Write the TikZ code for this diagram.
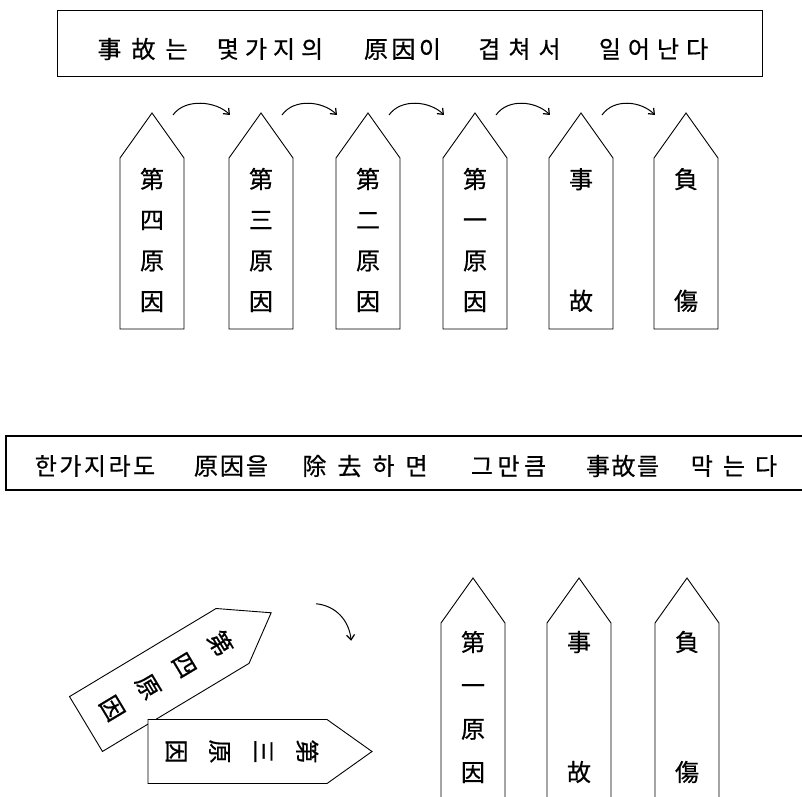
\documentclass[tikz,border=0pt]{standalone}
\usepackage{fontspec}
\newfontfamily\kr[FakeBold=0.6]{Noto Sans CJK KR}
\usetikzlibrary{arrows.meta,calc}
\makeatletter
\def\trk@end{}
\newcommand\trk[2]{\def\trk@k{\kern#1\relax}\trk@first#2\trk@end}
\def\trk@first#1{#1\trk@loop}
\def\trk@loop#1{\ifx#1\trk@end\else\trk@k#1\expandafter\trk@loop\fi}
\makeatother
\tikzset{
  pentline/.style={draw=black, line width=0.9pt, fill=white, line join=miter},
  ptext/.style={inner sep=0pt, align=center, font=\kr\fontsize{24}{40.7}\selectfont},
  wide/.style={ptext, font=\kr\fontsize{24}{43.3}\selectfont},
  word/.style={inner sep=0pt, font=\kr\fontsize{24}{28}\selectfont},
  bannerline/.style={draw=black, line width=1.1pt},
  arr/.style={draw=black, line width=1pt, -{Straight Barb[length=5pt,width=8pt,line width=1.2pt]}}
}
% #1 name, #2 x, #3 y (centre of base), #4 rotation, #5 body length, #6 text offset, #7 text style, #8 text
\newcommand\pent[8]{%
  \begin{scope}[shift={(#2,#3)},rotate=#4,transform shape]
    \draw[pentline] (-32,0) -- (-32,-#5) -- (0,-#5-45) coordinate (#1-top) -- (32,-#5) -- (32,0) -- cycle;
    \node[#7] (#1) at (0,-#6) {#8};
  \end{scope}}
\begin{document}
\begin{tikzpicture}[x=1pt,y=-1pt]
\useasboundingbox (0,0) rectangle (802,796);
\fill[white] (0,0) rectangle (802,796);
\clip (0,0) rectangle (802,796);

% top banner
\node[bannerline, anchor=north west, minimum width=705pt, minimum height=66pt, inner sep=0pt] (banner1) at (57,10) {};
\node[word] (t1) at (142.5,49) {\trk{10pt}{事故는}};
\node[word] (t2) at (270,49) {\trk{6pt}{몇가지의}};
\node[word] (t3) at (402.5,49) {\trk{3.5pt}{原因이}};
\node[word] (t4) at (519.5,49) {\trk{8pt}{겹쳐서}};
\node[word] (t5) at (653.5,49) {\trk{7pt}{일어난다}};

% top row of markers
\pent{p1}{152}{329}{0}{171}{89}{ptext}{第\\四\\原\\因}
\pent{p2}{261}{329}{0}{171}{89}{ptext}{第\\三\\原\\因}
\pent{p3}{368}{329}{0}{171}{89}{ptext}{第\\二\\原\\因}
\pent{p4}{475}{329}{0}{171}{89}{ptext}{第\\一\\原\\因}
\pent{p5}{581}{329}{0}{171}{89}{ptext}{事\\[81pt]故}
\pent{p6}{686}{329}{0}{171}{89}{ptext}{負\\[81pt]傷}

\foreach \a/\b in {p1/p2,p2/p3,p3/p4,p4/p5,p5/p6}
  \draw[arr] ($(\a-top)+(21,2)$) .. controls +(12,-17) and +(-14,-14) .. ($(\b-top)+(-31,2)$);

% bottom banner (open on the right)
\draw[bannerline] (806,436) -- (6,436) coordinate (bl1) -- (6,490) coordinate (bl2) -- (806,490);
\node[word] (b1) at (95,466) {\trk{2.5pt}{한가지라도}};
\node[word] (b2) at (231,466) {\trk{2pt}{原因을}};
\node[word] (b3) at (365,466) {\trk{11pt}{除去하면}};
\node[word] (b4) at (508.5,466) {\trk{4.5pt}{그만큼}};
\node[word] (b5) at (622.5,466) {\trk{1.5pt}{事故를}};
\node[word] (b6) at (734,466) {\trk{10pt}{막는다}};

% removed causes
\pent{q1}{86}{724}{-59}{171}{94}{ptext, font=\kr\fontsize{24}{42}\selectfont}{第\\四\\原\\因}
\pent{q2}{148}{751.5}{-90}{179}{94}{ptext, font=\kr\fontsize{24}{43.5}\selectfont}{第\\三\\原\\因}
\draw[arr] ($(q1-top)+(45,-9)$) .. controls +(20,2) and +(-2,-20) .. ($(q1-top)+(80,28)$);

% remaining markers
\pent{r1}{473}{820}{0}{197}{113}{wide}{第\\一\\原\\因}
\pent{r2}{579}{820}{0}{197}{113}{wide}{事\\[86.7pt]故}
\pent{r3}{687}{820}{0}{197}{113}{wide}{負\\[86.7pt]傷}
\end{tikzpicture}
\end{document}
